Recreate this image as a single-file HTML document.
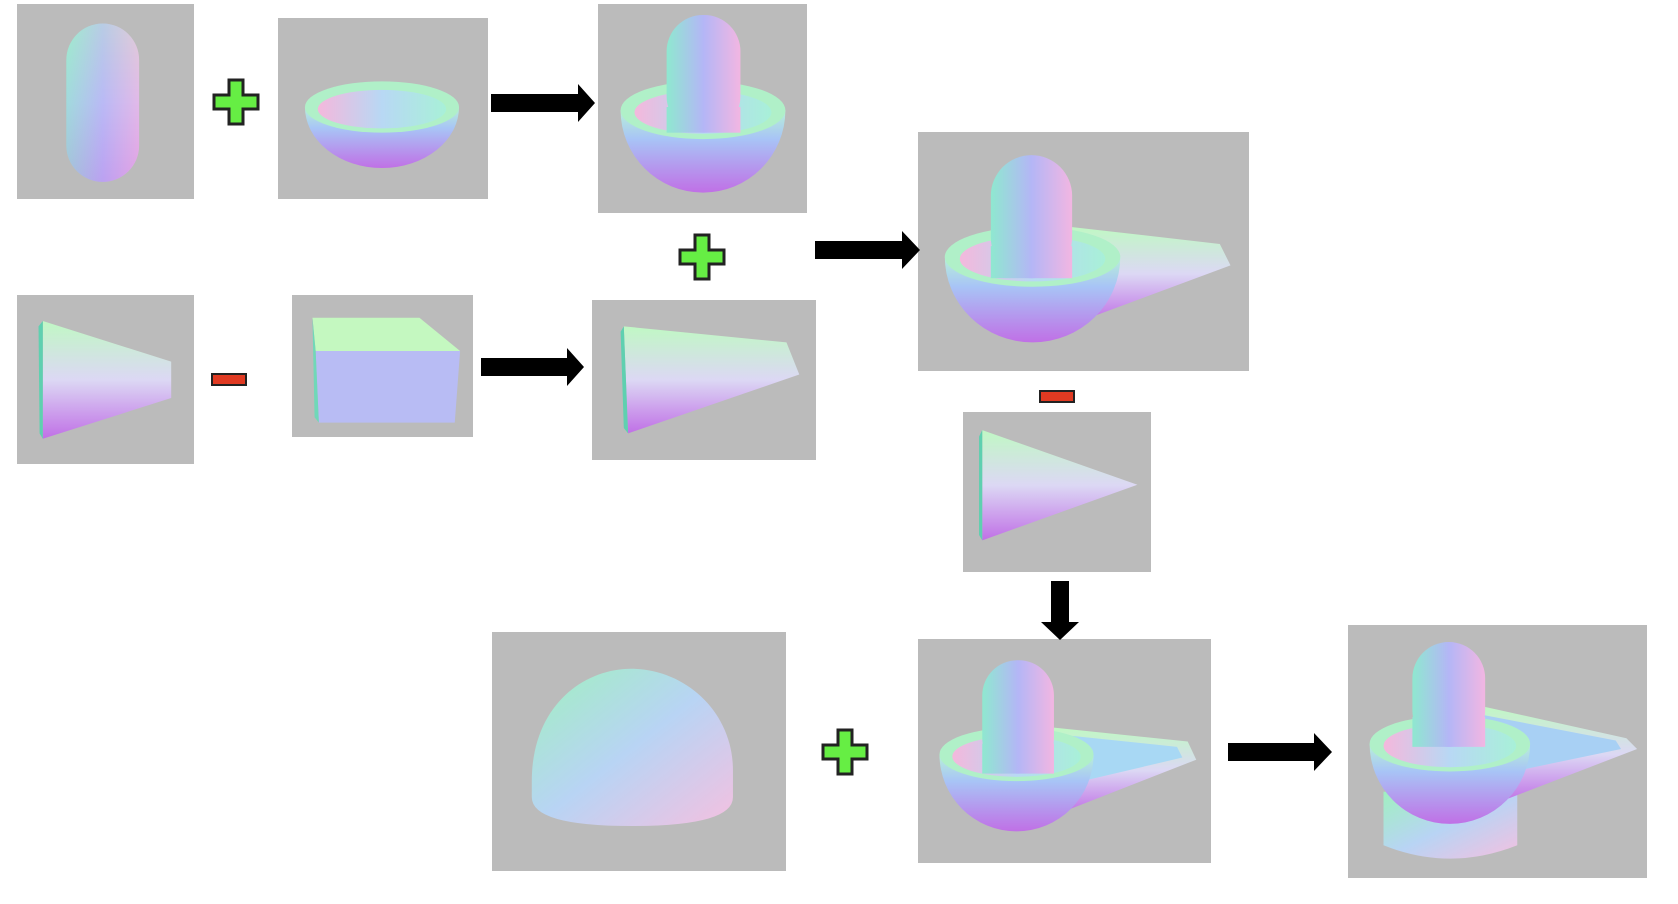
<!DOCTYPE html>
<html><head><style>html,body{margin:0;padding:0;background:#fff;width:1678px;height:904px;overflow:hidden}</style></head>
<body>
<svg width="1678" height="904" viewBox="0 0 1678 904" xmlns="http://www.w3.org/2000/svg">
<defs>
<linearGradient id="h" x1="0" y1="0" x2="1" y2="0"><stop offset="0" stop-color="#8fe8d0"/><stop offset="0.5" stop-color="#b4b6f6"/><stop offset="1" stop-color="#f2b6e2"/></linearGradient>
<linearGradient id="v" x1="0" y1="0" x2="0" y2="1"><stop offset="0" stop-color="#bff5c4"/><stop offset="0.5" stop-color="#c4c0f4"/><stop offset="1" stop-color="#c87ae8"/></linearGradient>
<linearGradient id="bowl" x1="0" y1="0" x2="0" y2="1"><stop offset="0" stop-color="#b8f0d8"/><stop offset="0.35" stop-color="#a8c4f6"/><stop offset="1" stop-color="#c070e6"/></linearGradient>
<linearGradient id="cone" x1="0" y1="0" x2="0" y2="1"><stop offset="0" stop-color="#c0f8c4"/><stop offset="0.5" stop-color="#dcd8f4"/><stop offset="1" stop-color="#c070e6"/></linearGradient>
<linearGradient id="egg" x1="0" y1="0" x2="1" y2="1"><stop offset="0" stop-color="#a0f0c0"/><stop offset="0.5" stop-color="#b8d4f4"/><stop offset="1" stop-color="#f4c0e0"/></linearGradient>
<linearGradient id="rim" x1="0" y1="0" x2="1" y2="0"><stop offset="0" stop-color="#f4b8dc"/><stop offset="0.5" stop-color="#b8d8f4"/><stop offset="1" stop-color="#a8f0d8"/></linearGradient>
<g id="plus"><path d="M-7,-22 H7 V-7 H22 V7 H7 V22 H-7 V7 H-22 V-7 H-7 Z" fill="#66ee44" stroke="#222" stroke-width="3"/></g>
<g id="minus"><rect x="-17" y="-5" width="34" height="11" fill="#e03a22" stroke="#222" stroke-width="2"/></g>
</defs>
<g fill="#bbbbbb">
<rect x="17" y="4" width="177" height="195"/>
<rect x="278" y="18" width="210" height="181"/>
<rect x="598" y="4" width="209" height="209"/>
<rect x="918" y="132" width="331" height="239"/>
<rect x="17" y="295" width="177" height="169"/>
<rect x="292" y="295" width="181" height="142"/>
<rect x="592" y="300" width="224" height="160"/>
<rect x="963" y="412" width="188" height="160"/>
<rect x="492" y="632" width="294" height="239"/>
<rect x="918" y="639" width="293" height="224"/>
<rect x="1348" y="625" width="299" height="253"/>
</g>
<g transform="scale(1.07)">
<rect x="62" y="22" width="68" height="148" rx="34" fill="url(#h)"/>
<rect x="62" y="22" width="68" height="148" rx="34" fill="url(#v)" opacity="0.35"/>
<path d="M285,100 A72,57 0 0 0 429,100 Z" fill="url(#bowl)"/>
<ellipse cx="357" cy="100" rx="72" ry="24" fill="#b0f0c8"/>
<ellipse cx="357" cy="102" rx="60" ry="18" fill="url(#rim)"/>
<path d="M580,103 A77,77 0 0 0 734,103 Z" fill="url(#bowl)"/>
<ellipse cx="657" cy="103" rx="77" ry="27" fill="#b0f0c8"/>
<ellipse cx="657" cy="105" rx="64" ry="20" fill="url(#rim)"/>
<rect x="623" y="14" width="69" height="110" rx="34" fill="url(#h)"/>
<rect x="623" y="100" width="69" height="24" fill="url(#h)"/>
<path d="M1000,212 L1140,228 L1150,248 L1010,300 L990,300 Z" fill="url(#cone)"/>
<path d="M883,240 A82,80 0 0 0 1047,240 Z" fill="url(#bowl)"/>
<ellipse cx="965" cy="240" rx="82" ry="28" fill="#b0f0c8"/>
<ellipse cx="965" cy="242" rx="68" ry="21" fill="url(#rim)"/>
<rect x="926" y="145" width="76" height="115" rx="38" fill="url(#h)"/>
<rect x="926" y="230" width="76" height="30" fill="url(#h)"/>
<polygon points="40,300 160,338 160,372 40,410" fill="url(#cone)"/>
<polygon points="36,305 40,300 40,410 37,405" fill="#5fd0b0"/>
<polygon points="292,297 392,297 430,328 295,328" fill="#c4f8c0"/>
<polygon points="295,328 430,328 425,395 298,395" fill="#b8bcf4"/>
<polygon points="292,297 295,328 298,395 294,390" fill="#70d8b8"/>
<polygon points="583,305 735,320 747,350 587,405" fill="url(#cone)"/>
<polygon points="580,310 583,305 587,405 583,400" fill="#5fd0b0"/>
<polygon points="918,402 1063,453 918,505" fill="url(#cone)"/>
<polygon points="915,408 918,402 918,505 915,500" fill="#5fd0b0"/>
<path d="M497,730 C497,660 545,625 590,625 C640,625 685,665 685,720 L685,745 Q685,772 590,772 Q497,772 497,745 Z" fill="url(#egg)"/>
<path d="M985,680 L1110,693 L1118,710 L990,760 L975,760 Z" fill="url(#cone)"/>
<path d="M985,686 L1100,698 L1105,708 L990,735 Z" fill="#a8d8f4"/>
<path d="M878,705 A72,72 0 0 0 1022,705 Z" fill="url(#bowl)"/>
<ellipse cx="950" cy="705" rx="72" ry="25" fill="#b0f0c8"/>
<ellipse cx="950" cy="707" rx="60" ry="19" fill="url(#rim)"/>
<rect x="918" y="617" width="67" height="106" rx="33" fill="url(#h)"/>
<rect x="918" y="695" width="67" height="28" fill="url(#h)"/>
<path d="M1293,740 L1293,790 Q1355,815 1418,790 L1418,740 Z" fill="url(#egg)"/>
<path d="M1385,660 L1520,690 L1530,700 L1400,750 L1380,750 Z" fill="url(#cone)"/>
<path d="M1385,668 L1510,692 L1515,700 L1395,725 Z" fill="#a8d0f4"/>
<path d="M1280,695 A75,75 0 0 0 1430,695 Z" fill="url(#bowl)"/>
<ellipse cx="1355" cy="695" rx="75" ry="26" fill="#b0f0c8"/>
<ellipse cx="1355" cy="697" rx="62" ry="20" fill="url(#rim)"/>
<rect x="1320" y="600" width="68" height="98" rx="34" fill="url(#h)"/>
<rect x="1320" y="670" width="68" height="28" fill="url(#h)"/>
</g>
<g fill="#000">
<polygon points="491,94 578,94 578,84 595,103 578,122 578,112 491,112"/>
<polygon points="481,358 567,358 567,348 584,367 567,386 567,376 481,376"/>
<polygon points="815,241 902,241 902,231 920,250 902,269 902,259 815,259"/>
<polygon points="1228,743 1314,743 1314,733 1332,752 1314,771 1314,761 1228,761"/>
<polygon points="1051,581 1069,581 1069,622 1079,622 1060,640 1041,622 1051,622"/>
</g>
<use href="#plus" x="236" y="102"/>
<use href="#plus" x="702" y="257"/>
<use href="#plus" x="845" y="752"/>
<use href="#minus" x="229" y="379"/>
<use href="#minus" x="1057" y="396"/>
</svg>
</body></html>
